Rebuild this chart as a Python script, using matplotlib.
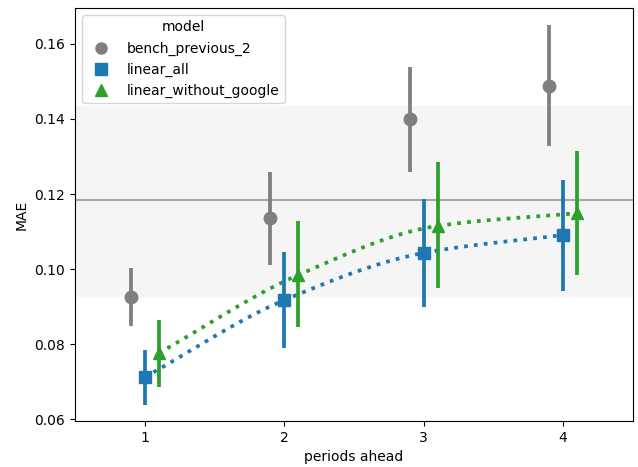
import numpy as np
import matplotlib
matplotlib.use("Agg")
import matplotlib.pyplot as plt
from matplotlib.lines import Line2D

# periods ahead
periods = [1, 2, 3, 4]

# mean MAE and confidence interval per model
bench_mae = [0.0925, 0.1136, 0.1400, 0.1488]
bench_lo = [0.0848, 0.1011, 0.1259, 0.1328]
bench_hi = [0.1003, 0.1259, 0.1539, 0.1651]

all_mae = [0.0712, 0.0917, 0.1043, 0.1091]
all_lo = [0.0637, 0.0789, 0.0899, 0.0941]
all_hi = [0.0784, 0.1045, 0.1187, 0.1237]

nogoogle_mae = [0.0776, 0.0984, 0.1115, 0.1149]
nogoogle_lo = [0.0685, 0.0845, 0.0949, 0.0984]
nogoogle_hi = [0.0864, 0.1128, 0.1285, 0.1315]

# reference level and its band
ref_mae = 0.1183
ref_lo = 0.0927
ref_hi = 0.1434

models = [
    ("bench_previous_2", bench_mae, bench_lo, bench_hi, "#7f7f7f", "o", -0.1, False),
    ("linear_all", all_mae, all_lo, all_hi, "#1f77b4", "s", 0.0, True),
    ("linear_without_google", nogoogle_mae, nogoogle_lo, nogoogle_hi, "#2ca02c", "^", 0.1, True),
]


def smooth_curve(x, y, n=40):
    # monotone cubic hermite through the points (Fritsch-Carlson slopes)
    d = np.diff(y) / np.diff(x)
    m = np.empty_like(y)
    m[0], m[-1] = d[0], d[-1]
    for i in range(1, len(y) - 1):
        m[i] = 0.0 if d[i - 1] * d[i] <= 0 else 2 / (1 / d[i - 1] + 1 / d[i])
    xs, ys = [], []
    for i in range(len(x) - 1):
        h = x[i + 1] - x[i]
        t = np.linspace(0, 1, n)
        h00 = 2 * t**3 - 3 * t**2 + 1
        h10 = t**3 - 2 * t**2 + t
        h01 = -2 * t**3 + 3 * t**2
        h11 = t**3 - t**2
        xs.append(x[i] + t * h)
        ys.append(h00 * y[i] + h10 * h * m[i] + h01 * y[i + 1] + h11 * h * m[i + 1])
    return np.concatenate(xs), np.concatenate(ys)


fig, ax = plt.subplots(figsize=(6.38, 4.67), dpi=100)
fig.subplots_adjust(left=0.1176, right=0.992, bottom=0.0985, top=0.983)

ax.axhspan(ref_lo, ref_hi, color="#f5f5f5", zorder=0)
ax.axhline(ref_mae, color="#a9a9a9", lw=1.5, zorder=1)

handles = []
for name, mae, lo, hi, color, marker, off, joined in models:
    x = np.array(periods) + off
    mae = np.array(mae)
    yerr = [mae - np.array(lo), np.array(hi) - mae]
    if joined:
        xs, ys = smooth_curve(x, mae)
        ax.plot(xs, ys, ls=":", lw=2.7, color=color, zorder=2)
    ax.errorbar(x, mae, yerr=yerr, fmt="none", ecolor=color, elinewidth=2.7, zorder=3)
    ax.plot(x, mae, ls="none", marker=marker, markersize=9, color=color, zorder=4)
    handles.append(Line2D([], [], ls="none", marker=marker, markersize=8, color=color, label=name))

ax.set_xlim(0.5, 4.5)
ax.set_ylim(0.0595, 0.1696)
ax.set_xticks(periods)
ax.set_yticks([0.06, 0.08, 0.10, 0.12, 0.14, 0.16])
ax.set_xlabel("periods ahead")
ax.set_ylabel("MAE")
ax.legend(handles=handles, title="model", loc="upper left")

plt.savefig("out.png")
